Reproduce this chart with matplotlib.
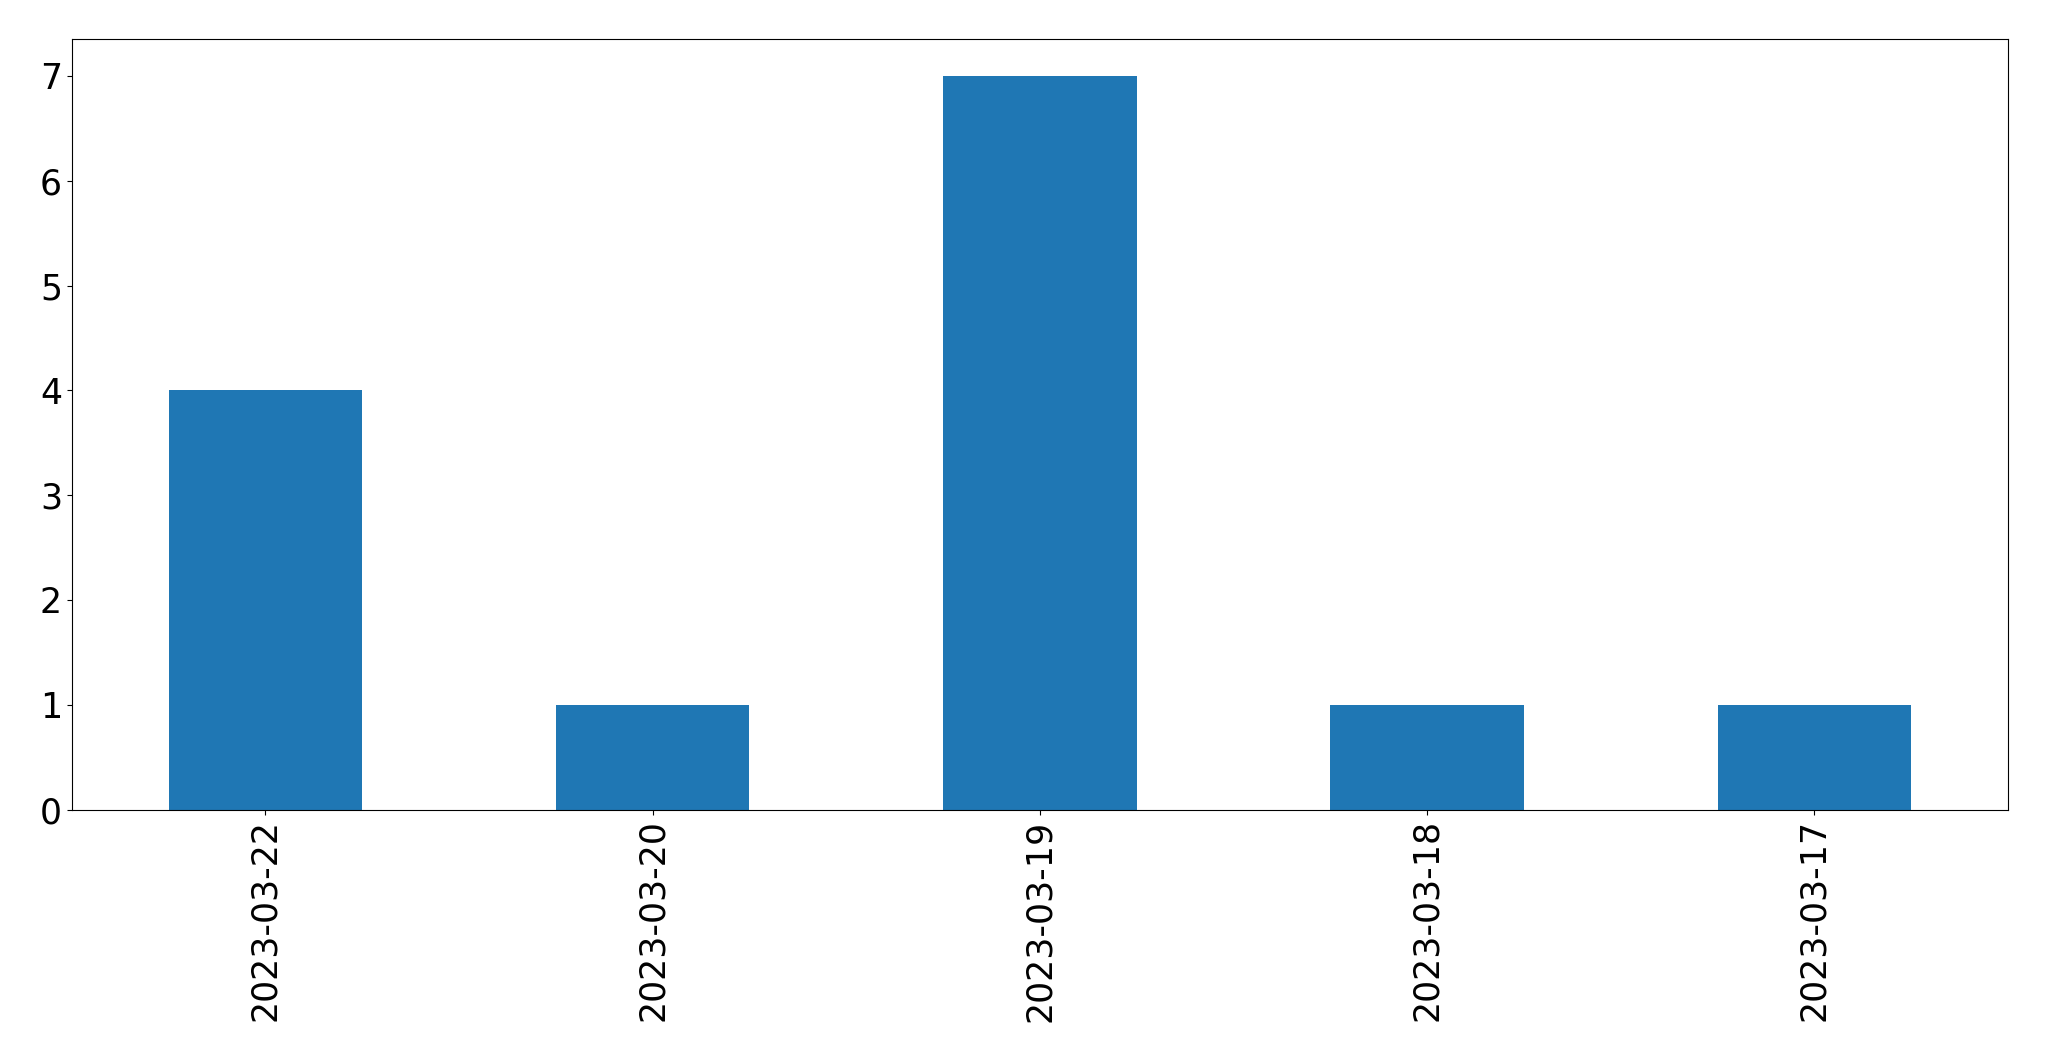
import matplotlib
matplotlib.use("Agg")
import matplotlib.pyplot as plt
import numpy as np

# data
dates = ["2023-03-22", "2023-03-20", "2023-03-19", "2023-03-18", "2023-03-17"]
counts = [4, 1, 7, 1, 1]

fig = plt.figure(figsize=(20.49, 10.61), dpi=100)
ax = fig.add_axes([0.035, 0.237, 0.945, 0.726])

x = np.arange(len(dates))
ax.bar(x, counts, width=0.5, color="#1f77b4")
ax.set_xlim(-0.5, len(dates) - 0.5)
ax.set_ylim(0, max(counts) * 1.05)
ax.set_xticks(x)
ax.set_xticklabels(dates, rotation=90)
ax.tick_params(axis="both", labelsize=25)

fig.savefig("out.png", dpi=100)
